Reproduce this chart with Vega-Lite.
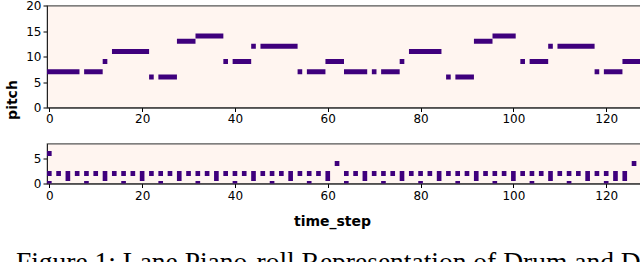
{
  "$schema": "https://vega.github.io/schema/vega-lite/v6.json",
  "padding": {"left": 4, "top": -1.5, "right": 0, "bottom": 0},
  "background": "white",
  "config": {
    "font": "DejaVu Sans",
    "view": {"fill": "#fff5f0", "stroke": "#555555", "strokeWidth": 1.2},
    "axis": {
      "grid": false,
      "labelFont": "DejaVu Sans",
      "labelFontSize": 12,
      "labelColor": "#000000",
      "tickColor": "#000000",
      "domainColor": "#222222",
      "tickSize": 4,
      "labelPadding": 2,
      "titleFont": "DejaVu Sans",
      "titleFontSize": 14,
      "titleFontWeight": "bold",
      "titleColor": "#000000"
    },
    "concat": {"spacing": 17}
  },
  "title": {
    "text": "Figure 1: Lane Piano-roll Representation of Drum and D",
    "orient": "bottom",
    "anchor": "start",
    "frame": "bounds",
    "font": "Liberation Serif",
    "fontSize": 27.5,
    "fontWeight": "normal",
    "color": "#000000",
    "baseline": "alphabetic",
    "offset": 42,
    "dx": 11
  },
  "datasets": {
    "notes": [
      {"start": 0, "end": 7, "pitch": 7},
      {"start": 8, "end": 12, "pitch": 7},
      {"start": 12, "end": 13, "pitch": 9},
      {"start": 14, "end": 22, "pitch": 11},
      {"start": 22, "end": 23, "pitch": 6},
      {"start": 24, "end": 28, "pitch": 6},
      {"start": 28, "end": 32, "pitch": 13},
      {"start": 32, "end": 38, "pitch": 14},
      {"start": 38, "end": 39, "pitch": 9},
      {"start": 40, "end": 44, "pitch": 9},
      {"start": 44, "end": 45, "pitch": 12},
      {"start": 46, "end": 54, "pitch": 12},
      {"start": 54, "end": 55, "pitch": 7},
      {"start": 56, "end": 60, "pitch": 7},
      {"start": 60, "end": 64, "pitch": 9},
      {"start": 64, "end": 69, "pitch": 7},
      {"start": 70, "end": 71, "pitch": 7},
      {"start": 72, "end": 76, "pitch": 7},
      {"start": 76, "end": 77, "pitch": 9},
      {"start": 78, "end": 85, "pitch": 11},
      {"start": 86, "end": 87, "pitch": 6},
      {"start": 88, "end": 92, "pitch": 6},
      {"start": 92, "end": 96, "pitch": 13},
      {"start": 96, "end": 101, "pitch": 14},
      {"start": 102, "end": 103, "pitch": 9},
      {"start": 104, "end": 108, "pitch": 9},
      {"start": 108, "end": 109, "pitch": 12},
      {"start": 110, "end": 118, "pitch": 12},
      {"start": 118, "end": 119, "pitch": 7},
      {"start": 120, "end": 124, "pitch": 7},
      {"start": 124, "end": 128, "pitch": 9}
    ],
    "drums": [
      {"t": 0, "p": 0}, {"t": 0, "p": 2}, {"t": 0, "p": 6},
      {"t": 2, "p": 2},
      {"t": 4, "p": 1}, {"t": 4, "p": 2},
      {"t": 6, "p": 2},
      {"t": 8, "p": 0}, {"t": 8, "p": 2},
      {"t": 10, "p": 2},
      {"t": 12, "p": 1}, {"t": 12, "p": 2},
      {"t": 14, "p": 2},
      {"t": 16, "p": 0}, {"t": 16, "p": 2},
      {"t": 18, "p": 2},
      {"t": 20, "p": 1}, {"t": 20, "p": 2},
      {"t": 22, "p": 2},
      {"t": 24, "p": 0}, {"t": 24, "p": 2},
      {"t": 26, "p": 2},
      {"t": 28, "p": 1}, {"t": 28, "p": 2},
      {"t": 30, "p": 2},
      {"t": 32, "p": 0}, {"t": 32, "p": 2},
      {"t": 34, "p": 2},
      {"t": 36, "p": 1}, {"t": 36, "p": 2},
      {"t": 38, "p": 2},
      {"t": 40, "p": 0}, {"t": 40, "p": 2},
      {"t": 42, "p": 2},
      {"t": 44, "p": 1}, {"t": 44, "p": 2},
      {"t": 46, "p": 2},
      {"t": 48, "p": 0}, {"t": 48, "p": 2},
      {"t": 50, "p": 2},
      {"t": 52, "p": 1}, {"t": 52, "p": 2},
      {"t": 54, "p": 2},
      {"t": 56, "p": 0}, {"t": 56, "p": 2},
      {"t": 58, "p": 2},
      {"t": 60, "p": 1}, {"t": 60, "p": 2},
      {"t": 62, "p": 4},
      {"t": 64, "p": 0}, {"t": 64, "p": 2},
      {"t": 66, "p": 2},
      {"t": 68, "p": 1}, {"t": 68, "p": 2},
      {"t": 70, "p": 2},
      {"t": 72, "p": 0}, {"t": 72, "p": 2},
      {"t": 74, "p": 2},
      {"t": 76, "p": 1}, {"t": 76, "p": 2},
      {"t": 78, "p": 2},
      {"t": 80, "p": 0}, {"t": 80, "p": 2},
      {"t": 82, "p": 2},
      {"t": 84, "p": 1}, {"t": 84, "p": 2},
      {"t": 86, "p": 2},
      {"t": 88, "p": 0}, {"t": 88, "p": 2},
      {"t": 90, "p": 2},
      {"t": 92, "p": 1}, {"t": 92, "p": 2},
      {"t": 94, "p": 2},
      {"t": 96, "p": 0}, {"t": 96, "p": 2},
      {"t": 98, "p": 2},
      {"t": 100, "p": 1}, {"t": 100, "p": 2},
      {"t": 102, "p": 2},
      {"t": 104, "p": 0}, {"t": 104, "p": 2},
      {"t": 106, "p": 2},
      {"t": 108, "p": 1}, {"t": 108, "p": 2},
      {"t": 110, "p": 2},
      {"t": 112, "p": 0}, {"t": 112, "p": 2},
      {"t": 114, "p": 2},
      {"t": 116, "p": 1}, {"t": 116, "p": 2},
      {"t": 118, "p": 2},
      {"t": 120, "p": 0}, {"t": 120, "p": 2},
      {"t": 122, "p": 1}, {"t": 122, "p": 2},
      {"t": 124, "p": 1}, {"t": 124, "p": 2},
      {"t": 126, "p": 4}
    ]
  },
  "vconcat": [
    {
      "width": 594,
      "height": 102,
      "data": {"name": "notes"},
      "mark": {"type": "rule", "color": "#3f007d", "strokeWidth": 5, "strokeCap": "butt", "xOffset": -2.32, "x2Offset": -2.32, "clip": true},
      "encoding": {
        "x": {
          "field": "start",
          "type": "quantitative",
          "scale": {"domain": [-0.5, 127.5], "nice": false, "zero": false},
          "axis": {"title": null, "values": [0, 20, 40, 60, 80, 100, 120]}
        },
        "x2": {"field": "end"},
        "y": {
          "field": "pitch",
          "type": "quantitative",
          "scale": {"domain": [0, 20], "nice": false},
          "axis": {"title": "pitch", "values": [0, 5, 10, 15, 20], "titleY": 94, "titleX": -27.5}
        }
      }
    },
    {
      "width": 594,
      "height": 40,
      "data": {"name": "drums"},
      "mark": {"type": "point", "shape": "M-0.93,-1H0.93V1H-0.93Z", "size": 25, "filled": true, "opacity": 1, "color": "#3f007d", "strokeWidth": 0, "clip": true},
      "encoding": {
        "x": {
          "field": "t",
          "type": "quantitative",
          "scale": {"domain": [-0.5, 127.5], "nice": false, "zero": false},
          "axis": {"title": "time_step", "values": [0, 20, 40, 60, 80, 100, 120], "titlePadding": 13, "titleX": 285, "labelPadding": 3}
        },
        "y": {
          "field": "p",
          "type": "quantitative",
          "scale": {"domain": [0, 8], "nice": false},
          "axis": {"title": null, "values": [0, 5]}
        }
      }
    }
  ]
}
